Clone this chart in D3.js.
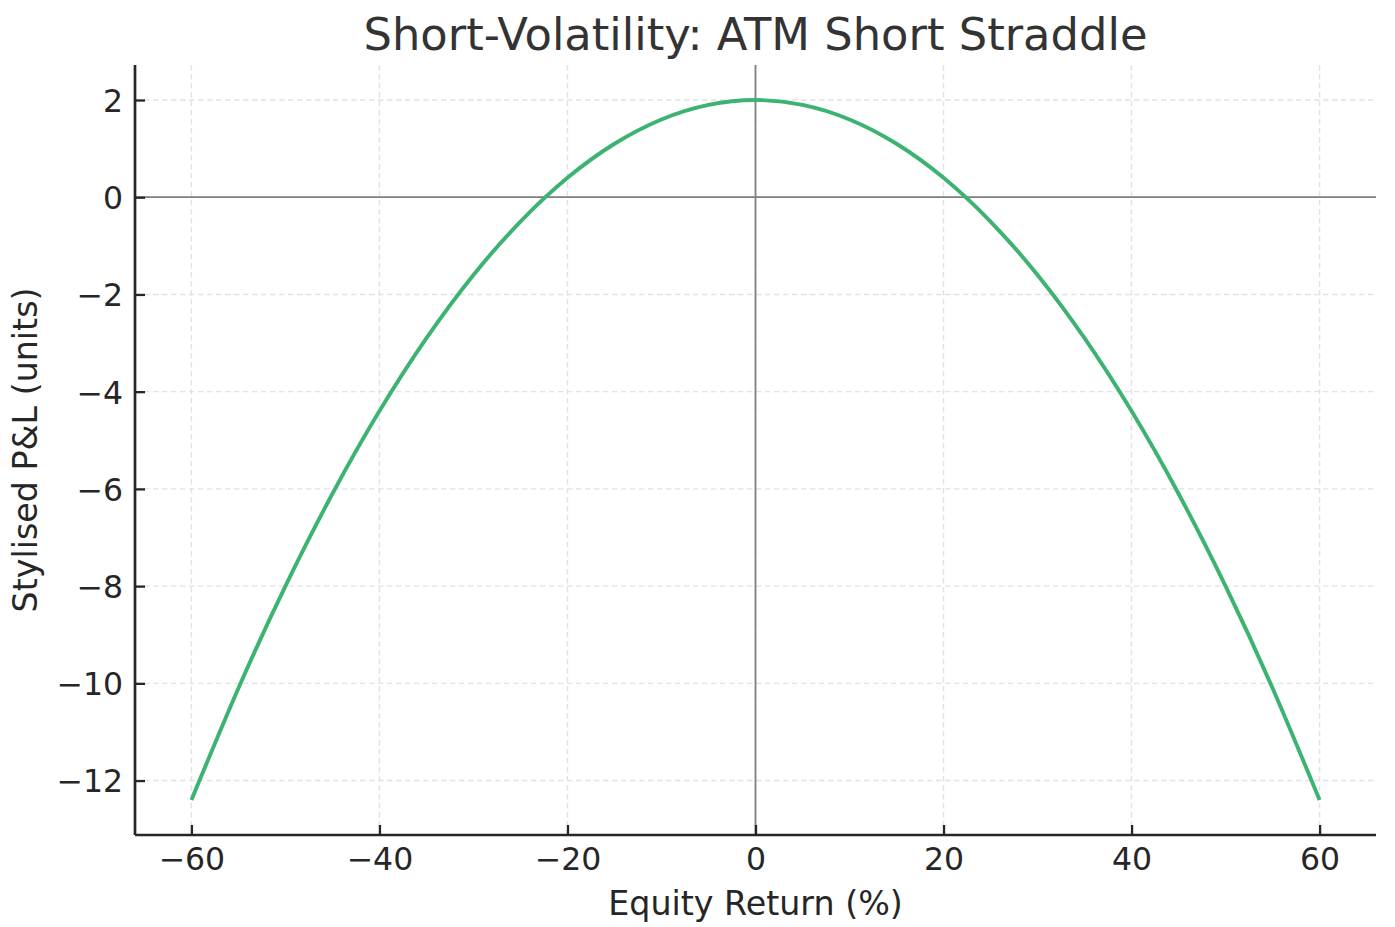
<!DOCTYPE html>
<html>
<head>
<meta charset="utf-8">
<script src="https://cdn.jsdelivr.net/npm/d3@7"></script>
<style>
  html, body { margin: 0; padding: 0; background: #fff; }
  svg { display: block; }
  text { font-family: "DejaVu Sans", sans-serif; }
</style>
</head>
<body>
<svg id="chart" width="1395" height="927"></svg>
<script>
// Data
const equityReturn = [-60, -55, -50, -45, -40, -35, -30, -25, -20, -15, -10, -5, 0, 5, 10, 15, 20, 25, 30, 35, 40, 45, 50, 55, 60];
const pnl = [-12.4, -10.1, -8.0, -6.1, -4.4, -2.9, -1.6, -0.5, 0.4, 1.1, 1.6, 1.9, 2.0, 1.9, 1.6, 1.1, 0.4, -0.5, -1.6, -2.9, -4.4, -6.1, -8.0, -10.1, -12.4];
const xTicks = [-60, -40, -20, 0, 20, 40, 60];
const yTicks = [-12, -10, -8, -6, -4, -2, 0, 2];
const titleText = "Short-Volatility: ATM Short Straddle";
const xLabelText = "Equity Return (%)";
const yLabelText = "Stylised P&L (units)";

const svg = d3.select("#chart");
const margin = { left: 135, right: 1376, top: 65, bottom: 835 };

const x = d3.scaleLinear().domain([-66, 66]).range([margin.left, margin.right]);
const y = d3.scaleLinear().domain([-13.12, 2.72]).range([margin.bottom, margin.top]);

const fmt = d => (d < 0 ? "\u2212" + Math.abs(d) : String(d));

// Grid
const grid = svg.append("g");
grid.selectAll("line.gx").data(xTicks).join("line")
  .attr("x1", d => x(d)).attr("x2", d => x(d))
  .attr("y1", margin.top).attr("y2", margin.bottom)
  .attr("stroke", "#e2e2e2").attr("stroke-width", 1.4).attr("stroke-dasharray", "5.5,3.5");
grid.selectAll("line.gy").data(yTicks).join("line")
  .attr("x1", margin.left).attr("x2", margin.right)
  .attr("y1", d => y(d)).attr("y2", d => y(d))
  .attr("stroke", "#e2e2e2").attr("stroke-width", 1.4).attr("stroke-dasharray", "5.5,3.5");

// Zero lines
svg.append("line")
  .attr("x1", margin.left).attr("x2", margin.right)
  .attr("y1", y(0)).attr("y2", y(0))
  .attr("stroke", "#808080").attr("stroke-width", 1.8);
svg.append("line")
  .attr("x1", x(0)).attr("x2", x(0))
  .attr("y1", margin.top).attr("y2", margin.bottom)
  .attr("stroke", "#808080").attr("stroke-width", 1.8);

// Curve
const pts = equityReturn.map((v, i) => [v, pnl[i]]);
svg.append("path")
  .datum(pts)
  .attr("fill", "none")
  .attr("stroke", "#3cb371")
  .attr("stroke-width", 3.9)
  .attr("d", d3.line().x(d => x(d[0])).y(d => y(d[1])).curve(d3.curveNatural));

// Axes (ticks inward, only left and bottom spines)
const xAxis = d3.axisBottom(x).tickValues(xTicks).tickSize(-10).tickPadding(14).tickFormat(fmt);
const yAxis = d3.axisLeft(y).tickValues(yTicks).tickSize(-10).tickPadding(14).tickFormat(fmt);

const gx = svg.append("g").attr("transform", `translate(0,${margin.bottom})`).call(xAxis);
const gy = svg.append("g").attr("transform", `translate(${margin.left},0)`).call(yAxis);

[gx, gy].forEach(g => {
  g.select(".domain").attr("stroke", "#262626").attr("stroke-width", 2.7);
  g.selectAll(".tick line").attr("stroke", "#262626").attr("stroke-width", 2.3);
  g.selectAll(".tick text")
    .attr("fill", "#262626")
    .style("font-size", "31.5px")
    .style("font-family", "'DejaVu Sans', sans-serif");
});
gx.select(".domain").attr("d", `M${margin.left},0H${margin.right}`);
gy.select(".domain").attr("d", `M0,${margin.bottom}V${margin.top}`);
gx.selectAll(".tick text").attr("dy", null).attr("y", 0).attr("transform", "translate(0,35)");
gy.selectAll(".tick text").attr("dy", "0.36em").attr("x", -12);

// Title
svg.append("text")
  .attr("x", (margin.left + margin.right) / 2)
  .attr("y", 50)
  .attr("text-anchor", "middle")
  .attr("fill", "#333333")
  .style("font-size", "44.8px")
  .text(titleText);

// Axis labels
svg.append("text")
  .attr("x", (margin.left + margin.right) / 2)
  .attr("y", 915)
  .attr("text-anchor", "middle")
  .attr("fill", "#262626")
  .style("font-size", "33.3px")
  .text(xLabelText);

svg.append("text")
  .attr("transform", `translate(37,${(margin.top + margin.bottom) / 2}) rotate(-90)`)
  .attr("text-anchor", "middle")
  .attr("fill", "#262626")
  .style("font-size", "33.3px")
  .text(yLabelText);
</script>
</body>
</html>
